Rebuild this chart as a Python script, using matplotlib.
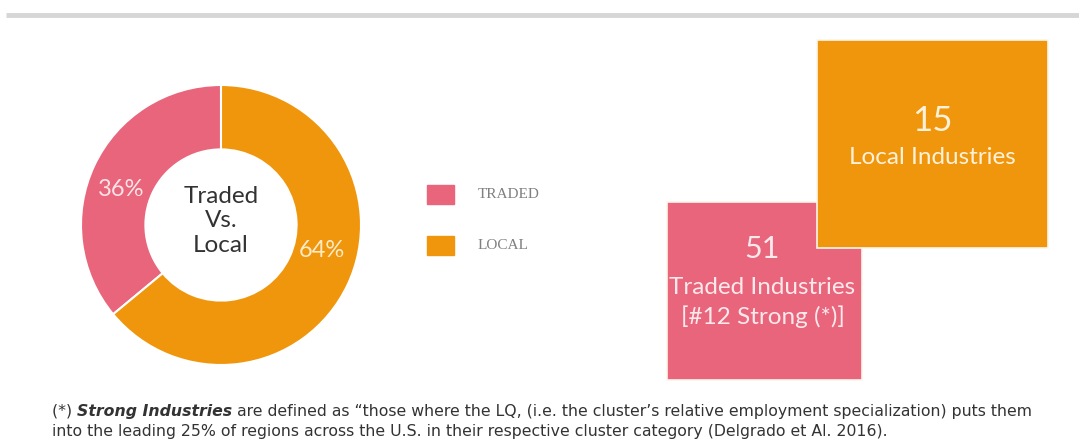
import matplotlib.pyplot as plt
from matplotlib.patches import Rectangle

# industry mix
categories = ["TRADED", "LOCAL"]
shares = [36, 64]
counts = [51, 15]
count_labels = ["Traded Industries", "Local Industries"]
strong_traded = 12

pink = "#E8657C"
orange = "#F0960C"
colors = [pink, orange]

W, H = 1079, 443
fig = plt.figure(figsize=(W / 100, H / 100), dpi=100)

# overlay axes in pixel units (y grows downward)
bg = fig.add_axes([0, 0, 1, 1])
bg.set_xlim(0, W)
bg.set_ylim(H, 0)
bg.axis("off")

# grey rule at the top
bg.plot([6, W], [15, 15], color="#d6d6d6", lw=3.5, solid_capstyle="butt")

# donut
cx, cy, r = 221, 225, 140
dax = fig.add_axes([(cx - r) / W, (H - cy - r) / H, 2 * r / W, 2 * r / H])
wedges, _ = dax.pie(shares, colors=colors, startangle=90, counterclock=True,
                    radius=1, wedgeprops=dict(width=0.46, edgecolor="white", linewidth=1.5))
dax.set_xlim(-1, 1)
dax.set_ylim(-1, 1)
dax.axis("off")

# percentage labels
label_pos = [(-0.715, 0.25), (0.72, -0.18)]
label_col = ["#FBE3E8", "#FDEBC8"]
for s, (x, y), c in zip(shares, label_pos, label_col):
    dax.text(x, y, f"{s}%", ha="center", va="center", fontsize=17,
             family="Lato", color=c)

dax.text(0, 0.03, "Traded\nVs.\nLocal", ha="center", va="center", fontsize=17.5,
         family="Lato", color="#333333", linespacing=1.2)

# legend
for i, (cat, c) in enumerate(zip(categories, colors)):
    y0 = 185 + i * 51
    bg.add_patch(Rectangle((427, y0), 27, 19, color=c))
    bg.text(478, y0 + 9.5, cat, ha="left", va="center", fontsize=11,
            family="Liberation Serif", color="#808080")

# count boxes (traded underneath, local on top)
boxes = {
    "TRADED": (667, 202, 195, 178),
    "LOCAL": (817, 40, 231, 208),
}
for cat, c in zip(categories, colors):
    x0, y0, w, h = boxes[cat]
    bg.add_patch(Rectangle((x0, y0), w, h, facecolor=c, edgecolor="#fff6ea",
                           lw=1.2, zorder=2 if cat == "LOCAL" else 1))

tx, ty, tw, th = boxes["TRADED"]
bg.text(tx + tw / 2 - 2, 249, str(counts[0]), ha="center", va="center",
        fontsize=22, family="Lato", color="#FCE9EC", zorder=3)
bg.text(tx + tw / 2 - 2, 287, count_labels[0], ha="center", va="center",
        fontsize=17.5, family="Lato", color="#FCE9EC", zorder=3)
bg.text(tx + tw / 2 - 2, 317, f"[#{strong_traded} Strong (*)]", ha="center", va="center",
        fontsize=17.5, family="Lato", color="#FCE9EC", zorder=3)

lx, ly, lw_, lh = boxes["LOCAL"]
bg.text(lx + lw_ / 2, 121, str(counts[1]), ha="center", va="center",
        fontsize=25, family="Lato", color="#FFF1DA", zorder=3)
bg.text(lx + lw_ / 2, 157, count_labels[1], ha="center", va="center",
        fontsize=17.5, family="Lato", color="#FFF1DA", zorder=3)

# footnote
fn_kw = dict(fontsize=11.3, family="DejaVu Sans", color="#333333", va="baseline")
t1 = bg.text(52, 416, "(*) ", **fn_kw)
fig.canvas.draw()
ren = fig.canvas.get_renderer()
inv = bg.transData.inverted()


def after(t):
    bb = t.get_window_extent(ren)
    return inv.transform((bb.x1, bb.y0))[0]


t2 = bg.text(after(t1), 416, "Strong Industries", fontweight="bold", fontstyle="italic", **fn_kw)
bg.text(after(t2), 416,
        " are defined as \u201cthose where the LQ, (i.e. the cluster\u2019s relative "
        "employment specialization) puts them", **fn_kw)
bg.text(52, 436,
        "into the leading 25% of regions across the U.S. in their respective cluster "
        "category (Delgrado et Al. 2016).", **fn_kw)

fig.savefig("out.png", dpi=100)
